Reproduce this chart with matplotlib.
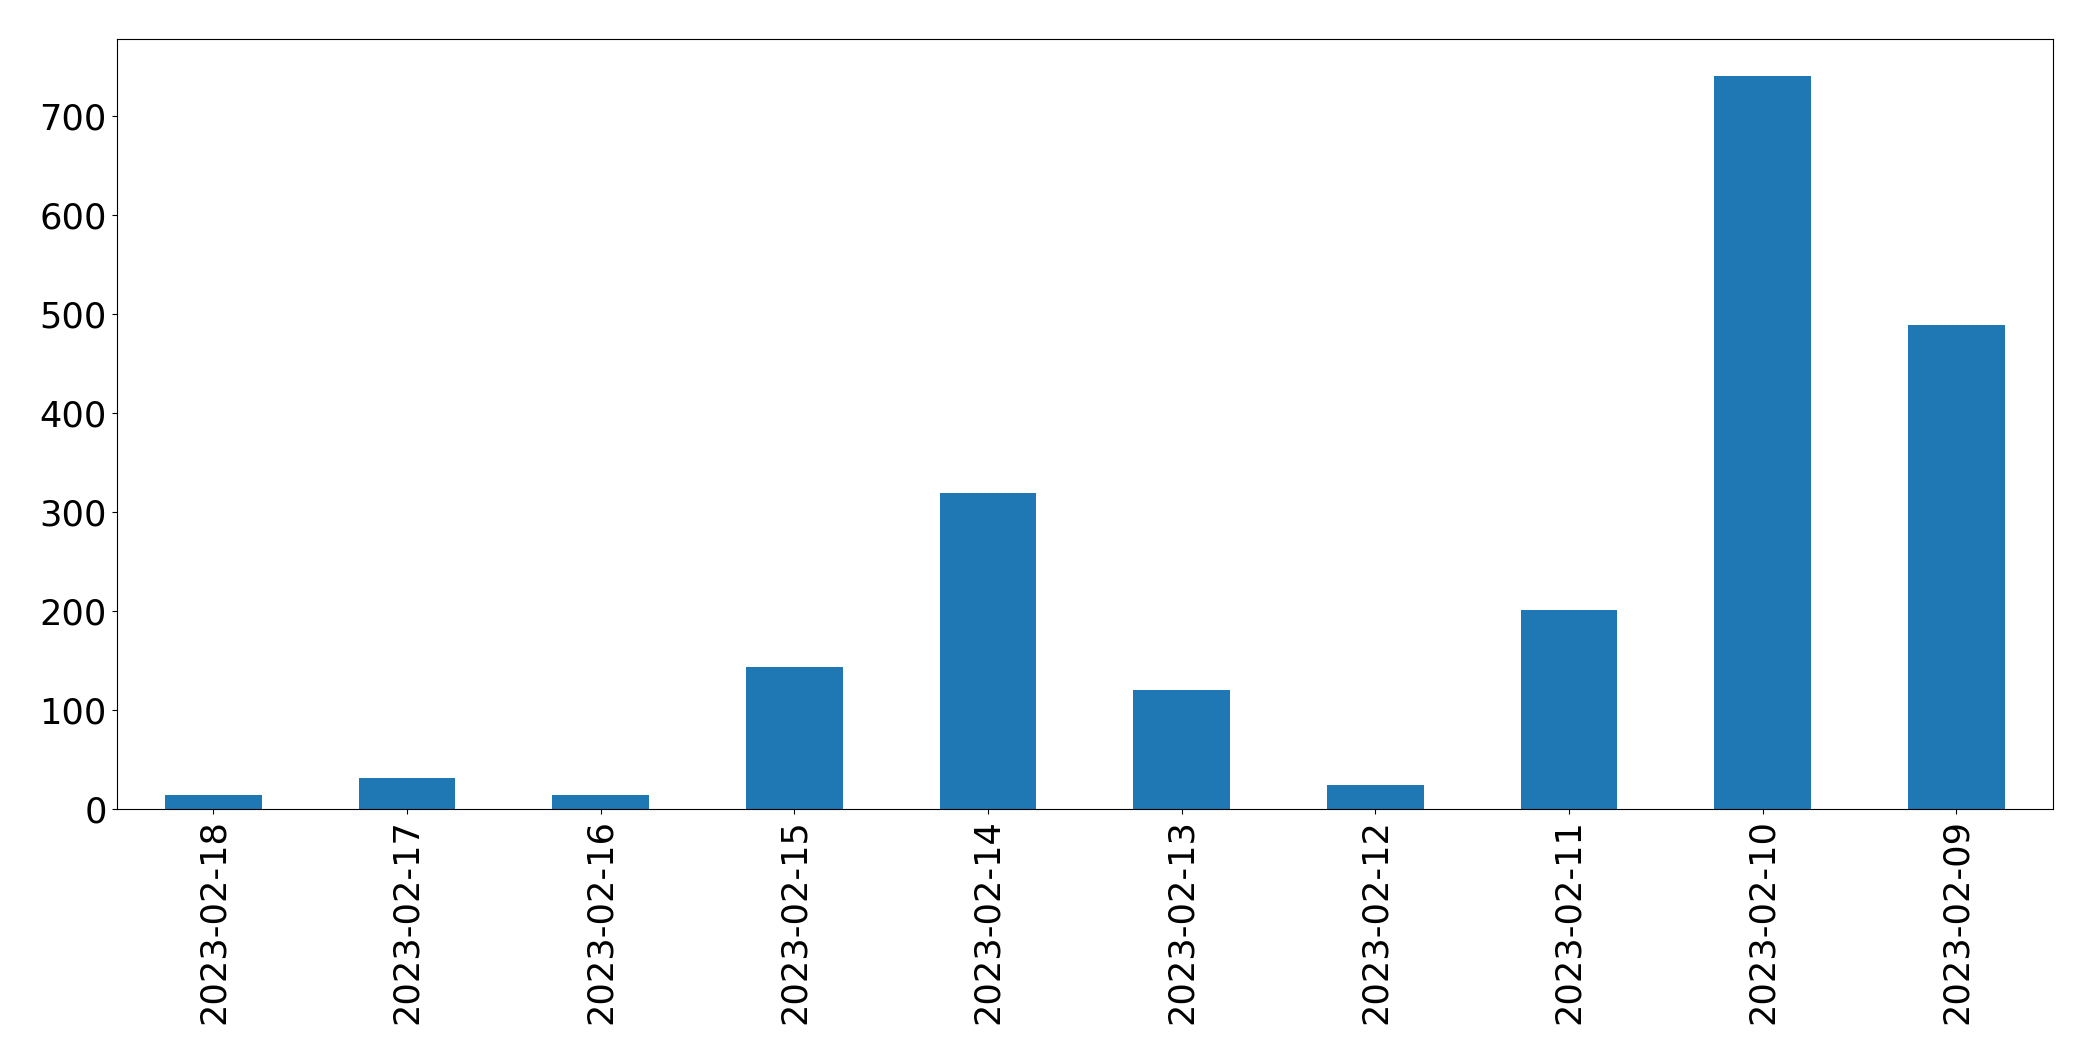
import matplotlib
matplotlib.use("Agg")
import matplotlib.pyplot as plt

dates = ["2023-02-18", "2023-02-17", "2023-02-16", "2023-02-15", "2023-02-14",
         "2023-02-13", "2023-02-12", "2023-02-11", "2023-02-10", "2023-02-09"]
counts = [14, 31, 14, 143, 319, 120, 24, 201, 740, 489]

fig = plt.figure(figsize=(20.93, 10.61), dpi=100)
ax = fig.add_axes([0.0557, 0.2375, 0.9253, 0.7255])
x = list(range(len(dates)))
ax.bar(x, counts, width=0.5, color="#1f77b4")
ax.set_xlim(-0.5, len(dates) - 0.5)
ax.set_xticks(x)
ax.set_xticklabels(dates, rotation=90)
ax.tick_params(axis="both", labelsize=25.3)
fig.savefig("out.png", dpi=100)
